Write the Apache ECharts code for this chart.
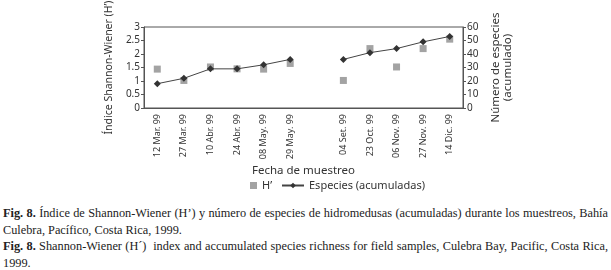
<!DOCTYPE html>
<html>
<head>
<meta charset="utf-8">
<script src="https://cdn.jsdelivr.net/npm/echarts@6/dist/echarts.min.js"></script>
<style>
  html, body { margin: 0; padding: 0; background: #fff; }
  #chart { position: absolute; left: 0; top: 0; width: 611px; height: 200px; }
  #caption {
    position: absolute; left: 3px; top: 205px; width: 605px;
    font-family: 'Liberation Serif', serif; font-size: 12.3px; line-height: 16.7px;
    color: #222; text-align: justify;
  }
  #caption p { margin: 0; }
</style>
</head>
<body>
<div id="chart"></div>
<div id="caption">
  <p><b>Fig. 8.</b> Índice de Shannon-Wiener (H’) y número de especies de hidromedusas (acumuladas) durante los muestreos, Bahía Culebra, Pacífico, Costa Rica, 1999.</p>
  <p><b>Fig. 8.</b> Shannon-Wiener (H´)&nbsp; index and accumulated species richness for field samples, Culebra Bay, Pacific, Costa Rica, 1999.</p>
</div>
<script>
const categories = ['12 Mar. 99', '27 Mar. 99', '10 Abr. 99', '24 Abr. 99', '08 May. 99', '29 May. 99', '',
  '04 Set. 99', '23 Oct. 99', '06 Nov. 99', '27 Nov. 99', '14 Dic. 99']
const shannon = [1.44, 1.02, 1.52, 1.45, 1.44, 1.65, null, 1.02, 2.2, 1.52, 2.2, 2.55]
const especies = [18, 22, 29, 29, 32, 36, null, 36, 41, 44, 49, 53]

const font = 'Noto Sans'
const legendText = { fontFamily: font, fontSize: 11, color: '#333' }
const valueLabel = { fontSize: 10, color: '#333', margin: 4 }
const chart = echarts.init(document.getElementById('chart'))
chart.setOption({
  animation: false,
  textStyle: { fontFamily: font },
  grid: {
    left: 144, right: 148, top: 27, bottom: 92,
    outerBoundsMode: 'none', containLabel: false,
    show: true, borderColor: '#555', borderWidth: 1
  },
  legend: [
    {
      left: 245, top: 175, itemWidth: 7, itemHeight: 7, itemGap: 4,
      textStyle: legendText,
      data: [{ name: 'H’', icon: 'rect' }]
    },
    {
      left: 276, top: 175, itemWidth: 22, itemHeight: 7,
      textStyle: legendText,
      data: [{ name: 'Especies (acumuladas)' }]
    }
  ],
  xAxis: {
    type: 'category',
    data: categories,
    boundaryGap: true,
    name: 'Fecha de muestreo',
    nameLocation: 'middle',
    nameGap: 57,
    nameTextStyle: { fontFamily: font, fontSize: 11.5, color: '#333' },
    axisLine: { lineStyle: { color: '#555' } },
    axisTick: { length: 3, lineStyle: { color: '#555' } },
    axisLabel: { rotate: 90, fontSize: 9, color: '#333', margin: 6, interval: 0 }
  },
  yAxis: [
    {
      type: 'value', min: 0, max: 3, interval: 0.5,
      name: 'Índice Shannon-Wiener (H’)',
      nameLocation: 'middle', nameGap: 19,
      nameTextStyle: { fontFamily: font, fontSize: 10.5, color: '#333' },
      axisLine: { show: true, lineStyle: { color: '#555' } },
      axisTick: { show: true, length: 3, lineStyle: { color: '#555' } },
      axisLabel: valueLabel,
      splitLine: { show: false }
    },
    {
      type: 'value', min: 0, max: 60, interval: 10,
      name: 'Número de especies\n(acumulado)',
      nameLocation: 'middle', nameGap: 24, nameRotate: 90,
      nameTextStyle: { fontFamily: font, fontSize: 11.5, color: '#333', lineHeight: 12 },
      axisLine: { show: true, lineStyle: { color: '#555' } },
      axisTick: { show: true, length: 3, lineStyle: { color: '#555' } },
      axisLabel: valueLabel,
      splitLine: { show: false }
    }
  ],
  series: [
    {
      name: 'H’',
      type: 'scatter',
      yAxisIndex: 0,
      symbol: 'rect',
      symbolSize: 7,
      itemStyle: { color: '#8c8c8c' },
      data: shannon
    },
    {
      name: 'Especies (acumuladas)',
      type: 'line',
      yAxisIndex: 1,
      symbol: 'diamond',
      symbolSize: 7,
      connectNulls: false,
      lineStyle: { color: '#444', width: 1 },
      itemStyle: { color: '#333' },
      data: especies
    }
  ]
})
</script>
</body>
</html>
